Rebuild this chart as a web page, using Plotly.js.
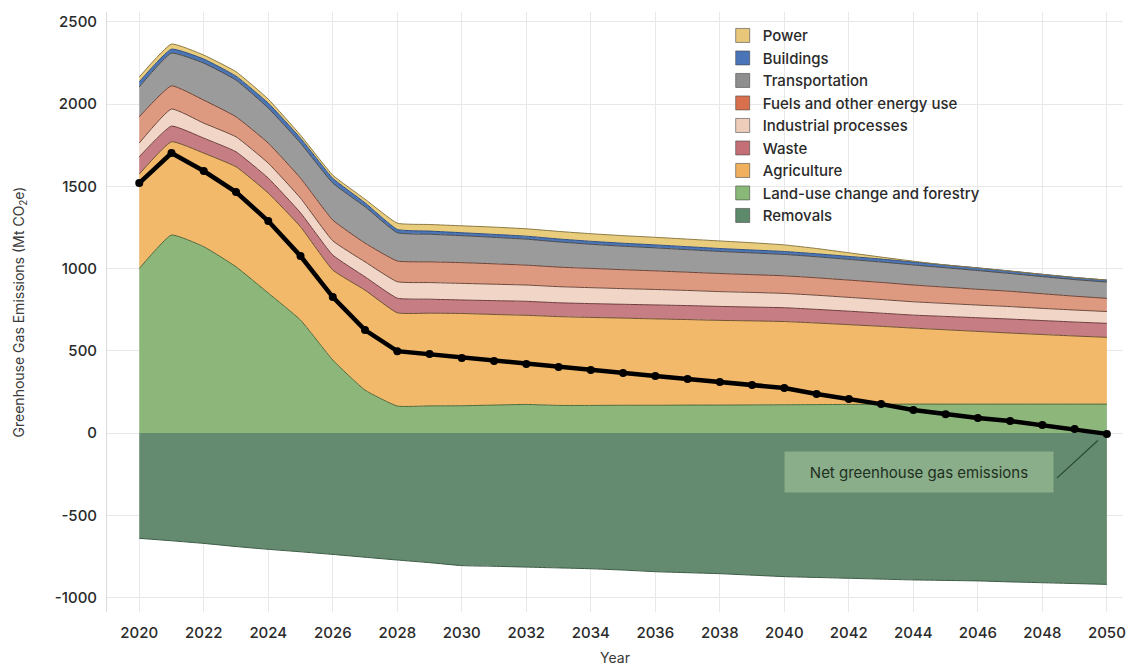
<!DOCTYPE html>
<html>
<head>
<meta charset="utf-8">
<script src="https://cdn.plot.ly/plotly-3.0.1.min.js"></script>
<style>html,body{margin:0;padding:0;background:#fff;}#chart{width:1131px;height:666px;}</style>
</head>
<body>
<div id="chart"></div>
<script>
const years = [2020,2021,2022,2023,2024,2025,2026,2027,2028,2029,2030,2031,2032,2033,2034,2035,2036,2037,2038,2039,2040,2041,2042,2043,2044,2045,2046,2047,2048,2049,2050];

const landUse = [1000,1204,1133,1011,851,687,444,261,164,165,166,170,174,168,168,169,169,170,170,171,172,173,174,175,176,176,176,176,176,176,176];
const agriculture = [574,567,569,608,608,567,547,608,567,564,561,551,542,540,535,530,525,520,515,511,506,496,485,474,462,452,442,432,423,414,406];
const waste = [106,95,91,91,91,85,91,81,89,85,82,84,85,84,84,84,85,85,85,84,84,83,82,80,79,81,83,85,85,85,85];
const industrial = [83,104,91,91,91,89,87,91,100,101,101,100,99,98,97,95,94,92,90,89,87,86,84,83,81,79,77,76,74,73,72];
const fuels = [160,141,140,122,122,122,126,114,126,126,126,124,121,119,117,115,113,111,110,108,107,106,105,104,102,99,96,93,89,84,80];
const transportation = [182,199,225,223,213,213,225,221,172,168,164,161,158,153,147,143,140,137,134,132,130,128,126,124,122,118,114,108,104,101,99];
const buildings = [31,24,25,24,30,30,29,24,20,19,18,18,18,18,18,18,18,18,18,18,18,18,18,18,18,17,16,15,14,13,12];
const power = [29,31,24,27,24,18,19,22,38,40,42,44,45,46,46,46,46,46,46,44,40,32,22,12,5,0,0,0,0,0,0];
const removals = [-640,-655,-671,-690,-707,-722,-738,-755,-772,-788,-806,-810,-815,-820,-825,-833,-843,-849,-855,-864,-873,-878,-883,-888,-893,-896,-899,-905,-910,-915,-920];
const netEmissions = [1520,1702,1593,1465,1289,1076,827,626,498,480,456,438,420,401,383,365,347,328,310,292,274,237,207,176,140,115,91,73,49,24,-5];

const xTicks = [2020,2022,2024,2026,2028,2030,2032,2034,2036,2038,2040,2042,2044,2046,2048,2050];
const yTicks = [-1000,-500,0,500,1000,1500,2000,2500];

const legendNames = ["Power","Buildings","Transportation","Fuels and other energy use","Industrial processes","Waste","Agriculture","Land-use change and forestry","Removals"];

const styles = {
  "Power":{fill:"#e9cd7d", line:"#8c7a44", sw:"#e8c67a"},
  "Buildings":{fill:"#4c76b6", line:"#2f4d80", sw:"#4a74b8"},
  "Transportation":{fill:"#9b9b9b", line:"#4a4a4a", sw:"#8e8e8e"},
  "Fuels and other energy use":{fill:"#dd9a80", line:"#6e4335", sw:"#d8704e"},
  "Industrial processes":{fill:"#f1d6c8", line:"#6e4a3c", sw:"#efcdbb"},
  "Waste":{fill:"#c77d84", line:"#6e3c3c", sw:"#c46f76"},
  "Agriculture":{fill:"#f2b96b", line:"#6e5230", sw:"#f0b05e"},
  "Land-use change and forestry":{fill:"#8db67b", line:"#4e6a3a", sw:"#8ab878"},
  "Removals":{fill:"#648b6f", line:"#3c5a45", sw:"#5e8a6c"}
};

const stackSeries = [
  ["Land-use change and forestry", landUse],
  ["Agriculture", agriculture],
  ["Waste", waste],
  ["Industrial processes", industrial],
  ["Fuels and other energy use", fuels],
  ["Transportation", transportation],
  ["Buildings", buildings],
  ["Power", power]
];

const traces = [];
traces.push({
  x: years, y: removals, type: "scatter", mode: "lines", fill: "tozeroy",
  fillcolor: styles["Removals"].fill,
  line: {color: styles["Removals"].line, width: 1, shape: "spline", smoothing: 0.4},
  showlegend: false, hoverinfo: "skip"
});
stackSeries.forEach(([name, vals]) => {
  traces.push({
    x: years, y: vals, type: "scatter", mode: "lines", stackgroup: "pos",
    fillcolor: styles[name].fill,
    line: {color: styles[name].line, width: 1, shape: "spline", smoothing: 0.4},
    name: name, showlegend: false, hoverinfo: "skip"
  });
});
traces.push({
  x: years, y: netEmissions, type: "scatter", mode: "lines+markers",
  line: {color: "#000000", width: 4.5},
  marker: {color: "#000000", size: 8},
  showlegend: false, hoverinfo: "skip"
});
legendNames.forEach(name => {
  traces.push({
    x: [null], y: [null], type: "scatter", mode: "markers", name: name,
    marker: {symbol: "square", size: 14, color: styles[name].sw, line: {color: "rgba(60,60,60,0.55)", width: 1}},
    showlegend: true, hoverinfo: "skip"
  });
});

const fontFam = "Inter, 'DejaVu Sans', sans-serif";

const layout = {
  width: 1131, height: 666,
  margin: {l: 107, r: 8, t: 12, b: 54},
  paper_bgcolor: "#ffffff", plot_bgcolor: "#ffffff",
  font: {family: fontFam, color: "#2a2a2a", size: 15},
  showlegend: true,
  legend: {
    x: 0.606, y: 0.988, xanchor: "left", yanchor: "top",
    traceorder: "normal", bgcolor: "rgba(255,255,255,0)",
    font: {family: fontFam, size: 15, color: "#2a2a2a", weight: 500},
    itemclick: false, tracegroupgap: 0
  },
  xaxis: {
    range: [2019, 2050.5], tickvals: xTicks, ticktext: xTicks.map(String),
    showgrid: true, gridcolor: "#e8e8e8", gridwidth: 1, zeroline: false,
    showline: false, ticks: "", ticklen: 0, ticklabelstandoff: 10,
    tickfont: {family: fontFam, size: 15, color: "#2a2a2a", weight: 500},
    title: {text: "Year", font: {family: fontFam, size: 14, color: "#3a3a3a"}, standoff: 14}
  },
  yaxis: {
    range: [-1088, 2560], tickvals: yTicks, ticktext: yTicks.map(String),
    showgrid: true, gridcolor: "#e8e8e8", gridwidth: 1, zeroline: false,
    showline: true, linecolor: "#dcdcdc", linewidth: 1, ticks: "", ticklabelstandoff: 6,
    tickfont: {family: fontFam, size: 15, color: "#2a2a2a", weight: 500},
    title: {text: "Greenhouse Gas Emissions (Mt CO<sub>2</sub>e)", font: {family: fontFam, size: 14, color: "#3a3a3a"}, standoff: 26}
  },
  shapes: [{
    type: "line", xref: "x", yref: "y",
    x0: 2048.45, y0: -274, x1: 2049.72, y1: -45,
    line: {color: "#2a4a33", width: 1.3}
  }],
  annotations: [{
    x: 2044.17, y: -237, xref: "x", yref: "y",
    text: "Net greenhouse gas emissions",
    showarrow: false,
    bgcolor: "rgba(150,186,146,0.75)", borderpad: 10, width: 248, height: 20,
    font: {family: fontFam, size: 15, color: "#1f2f22"}
  }]
};

Plotly.newPlot("chart", traces, layout, {displayModeBar: false, staticPlot: true});
</script>
</body>
</html>
